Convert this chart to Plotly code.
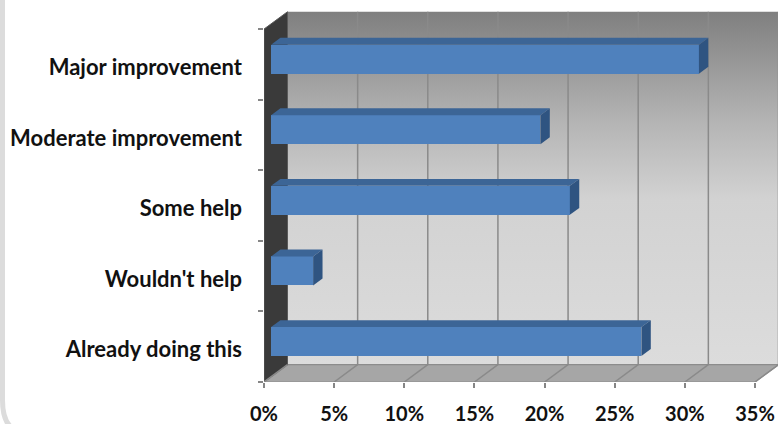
import plotly.graph_objects as go

categories = ["Already doing this", "Wouldn't help", "Some help", "Moderate improvement", "Major improvement"]
values = [26.4, 3.0, 21.3, 19.2, 30.5]
x_ticks = [0, 5, 10, 15, 20, 25, 30, 35]
x_tick_labels = ["0%", "5%", "10%", "15%", "20%", "25%", "30%", "35%"]

# geometry of the pseudo-3D box (data units)
DX = 1.675   # depth offset along x (percent units)
DY = 0.245   # depth offset along y (category units)
XMAX = 35
F0, F1 = 0.3, 0.7  # bar depth position (fraction of depth)
BW = 0.41          # bar thickness

ncat = len(categories)
ylo, yhi = -0.5, ncat - 0.5

fig = go.Figure()

# back wall with gradient
fig.add_trace(go.Scatter(
    x=[DX, XMAX + DX + 3, XMAX + DX + 3, DX, DX],
    y=[ylo + DY, ylo + DY, yhi + DY, yhi + DY, ylo + DY],
    mode="lines", line=dict(width=0), fill="toself",
    fillgradient=dict(type="vertical", start=ylo + DY, stop=yhi + DY,
                      colorscale=[[0, "#dcdcdc"], [0.47, "#d2d2d2"], [0.69, "#b4b4b4"], [1, "#7f7f7f"]]),
    hoverinfo="skip", showlegend=False))

# floor
fig.add_trace(go.Scatter(
    x=[0, XMAX, XMAX + DX, DX + 3 + XMAX, DX, 0],
    y=[ylo, ylo, ylo + DY, ylo + DY, ylo + DY, ylo],
    mode="lines", line=dict(width=1.2, color="#8c8c8c"), fill="toself", fillcolor="#a6a6a6",
    hoverinfo="skip", showlegend=False))

# left wall
fig.add_trace(go.Scatter(
    x=[0, DX, DX, 0, 0],
    y=[ylo, ylo + DY, yhi + DY, yhi, ylo],
    mode="lines", line=dict(width=1, color="#5a5a5a"), fill="toself", fillcolor="#3a3a3a",
    hoverinfo="skip", showlegend=False))

# gridlines
gx, gy = [], []
for v in x_ticks:
    if v > 0:
        gx += [v + DX, v + DX, None]
        gy += [ylo + DY, yhi + DY, None]
    gx += [v, v + DX, None]
    gy += [ylo, ylo + DY, None]
fig.add_trace(go.Scatter(x=gx, y=gy, mode="lines", line=dict(color="#8a8a8a", width=1.5),
                         hoverinfo="skip", showlegend=False))

# bars: front faces on overlay axes
ypos = list(range(ncat))
fig.add_trace(go.Bar(
    y=[p + F0 * DY for p in ypos], x=values, base=F0 * DX, orientation="h", width=BW,
    marker=dict(color="#4f81bd", line=dict(width=0)), xaxis="x2", yaxis="y2",
    hoverinfo="skip", showlegend=False))

# top and side faces
for p, v in zip(ypos, values):
    yb = p + F0 * DY - BW / 2
    yt = p + F0 * DY + BW / 2
    x0 = F0 * DX
    x1 = v + F0 * DX
    d = (F1 - F0)
    fig.add_trace(go.Scatter(
        x=[x0, x1, x1 + d * DX, x0 + d * DX, x0],
        y=[yt, yt, yt + d * DY, yt + d * DY, yt],
        mode="lines", line=dict(width=0), fill="toself", fillcolor="#3c6596",
        xaxis="x2", yaxis="y2", hoverinfo="skip", showlegend=False))
    fig.add_trace(go.Scatter(
        x=[x1, x1 + d * DX, x1 + d * DX, x1, x1],
        y=[yb, yb + d * DY, yt + d * DY, yt, yb],
        mode="lines", line=dict(width=0), fill="toself", fillcolor="#2f5481",
        xaxis="x2", yaxis="y2", hoverinfo="skip", showlegend=False))

XR = [0, 36.64]
YR = [ylo, yhi + 0.27]
FONT = "Lato, sans-serif"

fig.update_layout(
    width=778, height=424,
    margin=dict(l=264, r=0, t=10, b=42, autoexpand=False),
    paper_bgcolor="white", plot_bgcolor="white",
    bargap=0,
    xaxis=dict(range=XR, tickmode="array", tickvals=x_ticks, ticktext=x_tick_labels,
               ticks="outside", ticklen=5, tickwidth=1.5, tickcolor="#868686",
               showgrid=False, zeroline=False, showline=False, automargin=False,
               tickfont=dict(family=FONT, size=20, color="#111111", weight="bold"),
               ticklabelstandoff=9, fixedrange=True),
    yaxis=dict(range=YR, tickmode="array", tickvals=ypos, ticktext=categories,
               ticks="", showgrid=False, zeroline=False, showline=False, automargin=False,
               minor=dict(tickmode="array", tickvals=[i - 0.5 for i in range(ncat + 1)],
                          ticks="outside", ticklen=5, tickwidth=1.5, tickcolor="#868686"),
               tickfont=dict(family=FONT, size=22, color="#111111", weight="bold"),
               ticklabelstandoff=21, ticklabelshift=3, fixedrange=True),
    xaxis2=dict(range=XR, overlaying="x", visible=False, fixedrange=True),
    yaxis2=dict(range=YR, overlaying="y", visible=False, fixedrange=True),
    shapes=[dict(type="path", xref="paper", yref="paper", layer="above",
                 path="M %f %f L %f %f Q %f %f %f %f" % (
                     (2.5 - 264) / 514, (382 + 10) / 372,
                     (2.5 - 264) / 514, (382 - 400) / 372,
                     (2.5 - 264) / 514, (382 - 432) / 372,
                     (25 - 264) / 514, (382 - 432) / 372),
                 line=dict(color="#dcdcdc", width=5))],
)

fig.write_html("out.html", config={"displayModeBar": False},
               post_script="document.body.style.margin='0';")
